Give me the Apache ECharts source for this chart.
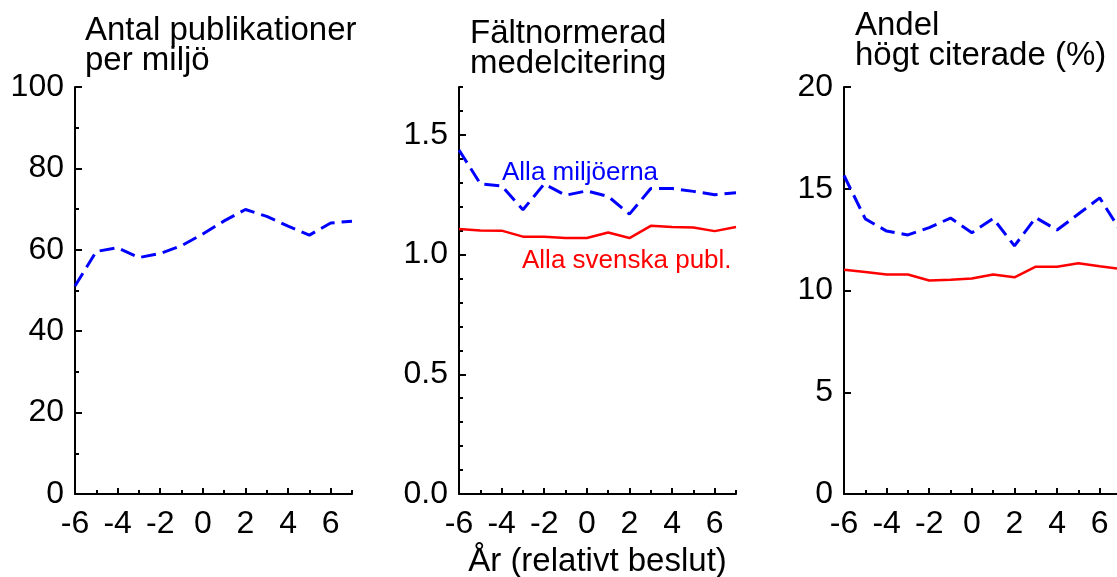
<!DOCTYPE html>
<html>
<head>
<meta charset="utf-8">
<script src="https://cdn.jsdelivr.net/npm/echarts@6/dist/echarts.min.js"></script>
<style>
html,body{margin:0;padding:0;background:#fff;}
#chart{width:1117px;height:577px;}
</style>
</head>
<body>
<div id="chart"></div>
<script>
// ---- data ----
const years = [-6,-5,-4,-3,-2,-1,0,1,2,3,4,5,6,7];
const pubsPerEnv = [51.1,59.6,60.5,58.1,59.1,61.0,63.9,67.1,69.9,68.2,65.8,63.6,66.6,67.0];
const citEnv = [1.437,1.296,1.287,1.187,1.295,1.248,1.266,1.243,1.169,1.276,1.276,1.264,1.250,1.258];
const citSweden = [1.107,1.101,1.100,1.075,1.075,1.069,1.069,1.092,1.069,1.120,1.115,1.113,1.098,1.115];
const topEnv = [15.65,13.52,12.92,12.73,13.09,13.56,12.84,13.54,12.19,13.58,12.97,13.76,14.55,12.9];
const topSweden = [11.02,10.91,10.79,10.79,10.49,10.53,10.59,10.79,10.65,11.17,11.17,11.34,11.19,11.05];

const xLabelTicks = [-6,-4,-2,0,2,4,6];
const xAllTicks = [-6,-5,-4,-3,-2,-1,0,1,2,3,4,5,6,7];
const y2LabelTicks = [0,0.5,1.0,1.5];
const y2MinorTicks = [0.1,0.2,0.3,0.4,0.6,0.7,0.8,0.9,1.1,1.2,1.3,1.4,1.6,1.7];

const titles = ['Antal publikationer\nper miljö','Fältnormerad\nmedelcitering','Andel\nhögt citerade (%)'];
const xName = 'År (relativt beslut)';
const labelEnv = 'Alla miljöerna';
const labelSweden = 'Alla svenska publ.';

// ---- styling ----
const FONT = "'Liberation Sans', Arial, sans-serif";
const BLUE = '#0000ff', RED = '#ff0000';
const axisLine = {show:true, onZero:false, lineStyle:{color:'#000', width:2}};
const pair = (xs, ys) => xs.map((x,i)=>[x, ys[i]]);

const gridLefts = [75, 459, 844];
const grids = gridLefts.map(l => ({left:l, top:87, width:277, height:407, containLabel:false, outerBoundsMode:'none'}));

const xAxes = [];
gridLefts.forEach((_,g) => {
  xAxes.push({
    type:'value', gridIndex:g, min:-6, max:7, interval:1,
    axisLine: axisLine,
    axisTick:{show:true, inside:true, length:4, lineStyle:{color:'#000', width:2}, customValues:xAllTicks},
    axisLabel:{show:true, customValues:xLabelTicks, margin:14, fontSize:32, color:'#000', fontFamily:FONT, formatter:v=>String(v)},
    splitLine:{show:false},
    name: g===1 ? xName : '', nameLocation:'middle', nameGap:51,
    nameTextStyle:{fontSize:33, color:'#000', fontFamily:FONT}
  });
  xAxes.push({
    type:'value', gridIndex:g, min:-6, max:7, position:'bottom',
    axisLine:{show:false, onZero:false},
    axisTick:{show:true, inside:true, length:6, lineStyle:{color:'#000', width:2}, customValues:xLabelTicks},
    axisLabel:{show:false}, splitLine:{show:false}
  });
});

const ylab = {show:true, margin:11, fontSize:32, color:'#000', fontFamily:FONT};
const yTick = (len) => ({show:true, inside:true, length:len, lineStyle:{color:'#000', width:2}});
const yAxes = [
  {type:'value', gridIndex:0, min:0, max:100, interval:20, axisLine:axisLine,
   axisTick:yTick(7), minorTick:{show:true, splitNumber:2, length:4, lineStyle:{color:'#000', width:2}},
   axisLabel:ylab, splitLine:{show:false}, minorSplitLine:{show:false}},
  {type:'value', gridIndex:1, min:0, max:1.7, axisLine:axisLine,
   axisTick:Object.assign(yTick(7), {customValues:y2LabelTicks}),
   axisLabel:Object.assign({}, ylab, {customValues:y2LabelTicks, formatter:v=>v.toFixed(1)}),
   splitLine:{show:false}},
  {type:'value', gridIndex:1, min:0, max:1.7, position:'left', axisLine:{show:false, onZero:false},
   axisTick:Object.assign(yTick(4), {customValues:y2MinorTicks}),
   axisLabel:{show:false}, splitLine:{show:false}},
  {type:'value', gridIndex:2, min:0, max:20, interval:5, axisLine:axisLine,
   axisTick:yTick(7), axisLabel:ylab, splitLine:{show:false}}
];

const dashed = {color:BLUE, width:3, type:[15,7]};
const solid = {color:RED, width:2.5, type:'solid'};
const series = [
  {type:'line', xAxisIndex:0, yAxisIndex:0, data:pair(years,pubsPerEnv), symbol:'none', lineStyle:dashed, itemStyle:{color:BLUE}, silent:true},
  {type:'line', xAxisIndex:2, yAxisIndex:1, data:pair(years,citEnv), symbol:'none', lineStyle:dashed, itemStyle:{color:BLUE}, silent:true},
  {type:'line', xAxisIndex:2, yAxisIndex:1, data:pair(years,citSweden), symbol:'none', lineStyle:solid, itemStyle:{color:RED}, silent:true},
  {type:'line', xAxisIndex:4, yAxisIndex:3, data:pair(years,topEnv), symbol:'none', lineStyle:dashed, itemStyle:{color:BLUE}, silent:true},
  {type:'line', xAxisIndex:4, yAxisIndex:3, data:pair(years,topSweden), symbol:'none', lineStyle:solid, itemStyle:{color:RED}, silent:true}
];

const titleTops = [16, 19, 11];
const titleLefts = [85, 470, 855];
const title = titles.map((t,i)=>({
  text:t, left:titleLefts[i], top:titleTops[i], padding:0,
  textStyle:{fontSize:33, lineHeight:30, fontWeight:'normal', color:'#000', fontFamily:FONT}
}));

const chart = echarts.init(document.getElementById('chart'), null, {renderer:'canvas'});
chart.setOption({
  animation:false,
  backgroundColor:'#fff',
  title: title,
  grid: grids,
  xAxis: xAxes,
  yAxis: yAxes,
  series: series,
  graphic: [
    {type:'text', left:502, top:160, style:{text:labelEnv, fill:BLUE, fontSize:26, fontFamily:FONT}},
    {type:'text', left:522, top:248, style:{text:labelSweden, fill:RED, fontSize:26, fontFamily:FONT}}
  ]
});
</script>
</body>
</html>
